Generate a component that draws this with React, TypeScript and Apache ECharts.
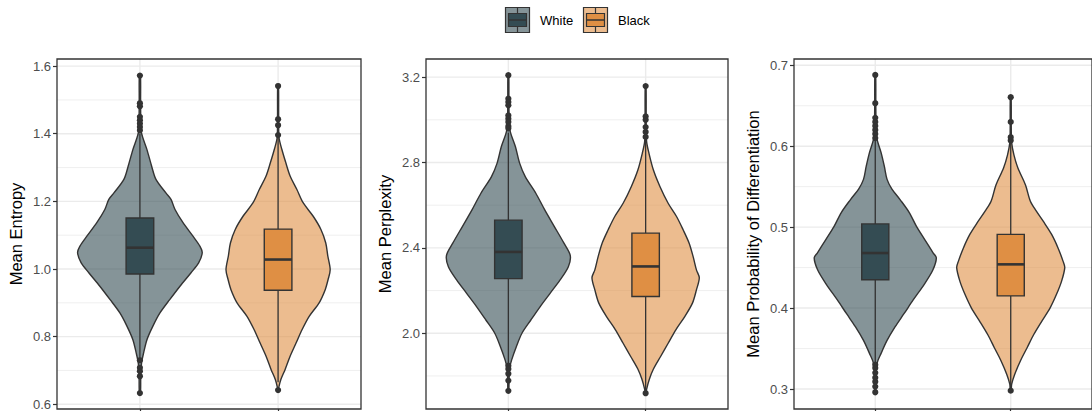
import React, { useEffect, useRef } from "react";
import * as echarts from "echarts";

// ---------- data ----------
const groups = ["White", "Black"];
const groupPositions = [1, 2];

// Panel 1: Mean Entropy
const entropyTicks = [0.6, 0.8, 1.0, 1.2, 1.4, 1.6];
const entropyMinor = [0.7, 0.9, 1.1, 1.3, 1.5];
const entropyWhiteY = [1.572, 1.5, 1.45, 1.403, 1.353, 1.304, 1.265, 1.225, 1.206, 1.176, 1.137, 1.097, 1.067, 1.048, 1.018, 0.989, 0.949, 0.91, 0.87, 0.831, 0.791, 0.752, 0.722, 0.68, 0.633];
const entropyWhiteW = [0.004, 0.005, 0.006, 0.011, 0.051, 0.085, 0.116, 0.188, 0.225, 0.254, 0.312, 0.384, 0.435, 0.451, 0.425, 0.37, 0.29, 0.217, 0.145, 0.094, 0.051, 0.027, 0.012, 0.006, 0.004];
const entropyBlackY = [1.541, 1.45, 1.388, 1.354, 1.314, 1.275, 1.235, 1.196, 1.156, 1.117, 1.077, 1.038, 0.998, 0.969, 0.939, 0.9, 0.86, 0.821, 0.781, 0.742, 0.703, 0.673, 0.648, 0.642];
const entropyBlackW = [0.003, 0.004, 0.007, 0.027, 0.056, 0.087, 0.136, 0.181, 0.254, 0.31, 0.345, 0.36, 0.377, 0.362, 0.341, 0.297, 0.225, 0.174, 0.13, 0.087, 0.051, 0.02, 0.004, 0.002];
const entropyWhiteBox = [0.736, 0.985, 1.063, 1.151, 1.4];
const entropyBlackBox = [0.665, 0.937, 1.028, 1.118, 1.39];
const entropyWhiteOut = [1.572, 1.49, 1.481, 1.45, 1.44, 1.43, 1.42, 1.41, 0.73, 0.708, 0.698, 0.683, 0.633];
const entropyBlackOut = [1.541, 1.443, 1.425, 1.396, 0.642];

// Panel 2: Mean Perplexity
const perplexityTicks = [2.0, 2.4, 2.8, 3.2];
const perplexityMinor = [1.8, 2.2, 2.6, 3.0];
const perplexityWhiteY = [3.209, 3.1, 3.0, 2.945, 2.875, 2.797, 2.734, 2.656, 2.578, 2.5, 2.422, 2.364, 2.312, 2.25, 2.187, 2.125, 2.062, 2.0, 1.937, 1.875, 1.836, 1.78, 1.73];
const perplexityWhiteW = [0.003, 0.004, 0.006, 0.014, 0.051, 0.082, 0.123, 0.2, 0.265, 0.335, 0.405, 0.451, 0.437, 0.377, 0.304, 0.232, 0.164, 0.099, 0.058, 0.024, 0.009, 0.005, 0.003];
const perplexityBlackY = [3.158, 3.0, 2.899, 2.844, 2.766, 2.688, 2.609, 2.547, 2.485, 2.422, 2.359, 2.297, 2.26, 2.203, 2.141, 2.078, 2.016, 1.953, 1.891, 1.831, 1.784, 1.737, 1.719];
const perplexityBlackW = [0.003, 0.004, 0.007, 0.024, 0.056, 0.104, 0.164, 0.225, 0.273, 0.317, 0.346, 0.37, 0.391, 0.37, 0.341, 0.285, 0.22, 0.164, 0.109, 0.056, 0.027, 0.007, 0.003];
const perplexityWhiteBox = [1.85, 2.256, 2.381, 2.53, 2.94];
const perplexityBlackBox = [1.73, 2.172, 2.313, 2.469, 2.91];
const perplexityWhiteOut = [3.209, 3.099, 3.083, 3.068, 3.02, 3.005, 2.99, 2.97, 2.96, 1.848, 1.833, 1.81, 1.778, 1.73];
const perplexityBlackOut = [3.158, 3.016, 3.0, 2.966, 2.943, 2.92, 1.719];

// Panel 3: Mean Probability of Differentiation
const probTicks = [0.3, 0.4, 0.5, 0.6, 0.7];
const probMinor = [0.35, 0.45, 0.55, 0.65];
const probWhiteY = [0.688, 0.65, 0.625, 0.61, 0.592, 0.575, 0.559, 0.547, 0.534, 0.518, 0.501, 0.485, 0.468, 0.462, 0.447, 0.43, 0.41, 0.393, 0.377, 0.36, 0.344, 0.332, 0.31, 0.296];
const probWhiteW = [0.003, 0.004, 0.006, 0.011, 0.043, 0.067, 0.087, 0.123, 0.183, 0.251, 0.304, 0.364, 0.428, 0.451, 0.425, 0.364, 0.28, 0.212, 0.147, 0.087, 0.043, 0.014, 0.005, 0.003];
const probBlackY = [0.6605, 0.62, 0.604, 0.589, 0.573, 0.552, 0.532, 0.52, 0.507, 0.491, 0.474, 0.458, 0.45, 0.433, 0.417, 0.4, 0.384, 0.367, 0.351, 0.335, 0.318, 0.306, 0.298];
const probBlackW = [0.003, 0.004, 0.007, 0.024, 0.053, 0.109, 0.145, 0.188, 0.241, 0.302, 0.35, 0.386, 0.399, 0.375, 0.338, 0.29, 0.23, 0.169, 0.121, 0.072, 0.029, 0.007, 0.003];
const probWhiteBox = [0.333, 0.435, 0.468, 0.504, 0.607];
const probBlackBox = [0.3, 0.415, 0.454, 0.491, 0.605];
const probWhiteOut = [0.688, 0.653, 0.635, 0.63, 0.625, 0.62, 0.615, 0.61, 0.33, 0.326, 0.32, 0.314, 0.309, 0.303, 0.296];
const probBlackOut = [0.6605, 0.63, 0.611, 0.607, 0.298];

// ---------- styling ----------
const FONT = "'Liberation Sans', Arial, Helvetica, sans-serif";
const WHITE_VIOLIN = "rgba(52,76,84,0.6)";
const WHITE_BOX = "#344C53";
const BLACK_VIOLIN = "rgba(223,143,68,0.6)";
const BLACK_BOX = "#DF8F44";
const INK = "#333333";

type Violin = { pos: number; y: number[]; w: number[]; box: number[]; fill: string; boxFill: string; out: number[] };
type Panel = { title: string; min: number; max: number; ticks: number[]; minor: number[]; left: number; width: number; violins: Violin[] };

const panels: Panel[] = [
  {
    title: "Mean Entropy", min: 0.586, max: 1.621, ticks: entropyTicks, minor: entropyMinor, left: 57, width: 304,
    violins: [
      { pos: groupPositions[0], y: entropyWhiteY, w: entropyWhiteW, box: entropyWhiteBox, fill: WHITE_VIOLIN, boxFill: WHITE_BOX, out: entropyWhiteOut },
      { pos: groupPositions[1], y: entropyBlackY, w: entropyBlackW, box: entropyBlackBox, fill: BLACK_VIOLIN, boxFill: BLACK_BOX, out: entropyBlackOut },
    ],
  },
  {
    title: "Mean Perplexity", min: 1.645, max: 3.285, ticks: perplexityTicks, minor: perplexityMinor, left: 426, width: 302,
    violins: [
      { pos: groupPositions[0], y: perplexityWhiteY, w: perplexityWhiteW, box: perplexityWhiteBox, fill: WHITE_VIOLIN, boxFill: WHITE_BOX, out: perplexityWhiteOut },
      { pos: groupPositions[1], y: perplexityBlackY, w: perplexityBlackW, box: perplexityBlackBox, fill: BLACK_VIOLIN, boxFill: BLACK_BOX, out: perplexityBlackOut },
    ],
  },
  {
    title: "Mean Probability of Differentiation", min: 0.2753, max: 0.7077, ticks: probTicks, minor: probMinor, left: 794, width: 304,
    violins: [
      { pos: groupPositions[0], y: probWhiteY, w: probWhiteW, box: probWhiteBox, fill: WHITE_VIOLIN, boxFill: WHITE_BOX, out: probWhiteOut },
      { pos: groupPositions[1], y: probBlackY, w: probBlackW, box: probBlackBox, fill: BLACK_VIOLIN, boxFill: BLACK_BOX, out: probBlackOut },
    ],
  },
];

const X_MIN = 0.4;
const X_MAX = 2.6;
const BOX_HALF = 0.1;

function buildOption() {
  const grid: any[] = [];
  const xAxis: any[] = [];
  const yAxis: any[] = [];
  const series: any[] = [];

  panels.forEach((p, i) => {
    grid.push({ left: p.left, top: 59, width: p.width, height: 350, show: true, borderColor: INK, borderWidth: 1.3, backgroundColor: "transparent", z: 10 });
    xAxis.push({
      type: "value", gridIndex: i, min: X_MIN, max: X_MAX,
      axisLine: { show: false }, axisLabel: { show: false }, splitLine: { show: false },
      axisTick: { show: true, customValues: groupPositions, length: 4, lineStyle: { color: INK, width: 1.2 } },
    });
    yAxis.push({
      type: "value", gridIndex: i, min: p.min, max: p.max,
      name: p.title, nameLocation: "middle", nameGap: 33,
      nameTextStyle: { fontSize: 16.5, color: "#000", fontFamily: FONT },
      axisLine: { show: false }, splitLine: { show: false },
      axisTick: { show: true, customValues: p.ticks, length: 4, lineStyle: { color: INK, width: 1.2 } },
      axisLabel: { customValues: p.ticks, formatter: (v: number) => v.toFixed(1), color: "#4D4D4D", fontSize: 13, margin: 6, fontFamily: FONT },
    });

    // grid lines
    const gridData: number[][] = [
      ...p.ticks.map((v) => [0, v]),
      ...p.minor.map((v) => [1, v]),
      ...groupPositions.map((v) => [2, v]),
    ];
    series.push({
      type: "custom", xAxisIndex: i, yAxisIndex: i, z: 1, silent: true,
      data: gridData,
      renderItem: (params: any, api: any) => {
        const kind = api.value(0);
        const v = api.value(1);
        let a, b;
        if (kind === 2) { a = api.coord([v, p.min]); b = api.coord([v, p.max]); }
        else { a = api.coord([X_MIN, v]); b = api.coord([X_MAX, v]); }
        return {
          type: "line", shape: { x1: a[0], y1: a[1], x2: b[0], y2: b[1] },
          style: { stroke: "#EBEBEB", lineWidth: kind === 1 ? 0.8 : 1.4 },
        };
      },
    });

    // violins + boxes
    series.push({
      type: "custom", xAxisIndex: i, yAxisIndex: i, z: 2, silent: true,
      data: p.violins.map((v) => [v.pos, v.box[2]]),
      renderItem: (params: any, api: any) => {
        const v = p.violins[params.dataIndex];
        const pts: number[][] = [];
        for (let k = 0; k < v.y.length; k++) pts.push(api.coord([v.pos + v.w[k], v.y[k]]));
        for (let k = v.y.length - 1; k >= 0; k--) pts.push(api.coord([v.pos - v.w[k], v.y[k]]));
        const [lw, q1, med, q3, uw] = v.box;
        const tl = api.coord([v.pos - BOX_HALF, q3]);
        const br = api.coord([v.pos + BOX_HALF, q1]);
        const up = api.coord([v.pos, uw]);
        const lo = api.coord([v.pos, lw]);
        const m1 = api.coord([v.pos - BOX_HALF, med]);
        const m2 = api.coord([v.pos + BOX_HALF, med]);
        return {
          type: "group",
          children: [
            { type: "polygon", shape: { points: pts, smooth: 0.3 }, style: { fill: v.fill, stroke: INK, lineWidth: 1.4 } },
            { type: "line", shape: { x1: up[0], y1: up[1], x2: up[0], y2: tl[1] }, style: { stroke: INK, lineWidth: 1.3 } },
            { type: "line", shape: { x1: lo[0], y1: lo[1], x2: lo[0], y2: br[1] }, style: { stroke: INK, lineWidth: 1.3 } },
            { type: "rect", shape: { x: tl[0], y: tl[1], width: br[0] - tl[0], height: br[1] - tl[1] }, style: { fill: v.boxFill, stroke: INK, lineWidth: 1.4 } },
            { type: "line", shape: { x1: m1[0], y1: m1[1], x2: m2[0], y2: m2[1] }, style: { stroke: INK, lineWidth: 2.6 } },
          ],
        };
      },
    });

    // outliers
    const outData: number[][] = [];
    p.violins.forEach((v) => v.out.forEach((o) => outData.push([v.pos, o])));
    series.push({
      type: "scatter", xAxisIndex: i, yAxisIndex: i, z: 3, silent: true,
      symbol: "circle", symbolSize: 6.2, itemStyle: { color: INK, opacity: 1 },
      data: outData,
    });
  });

  // legend drawn with graphic elements
  const legendKey = (x: number, fill: string, boxFill: string) => [
    { type: "rect", shape: { x: x, y: 7.5, width: 24, height: 25 }, style: { fill, stroke: INK, lineWidth: 1.2 } },
    { type: "line", shape: { x1: x + 12, y1: 7.5, x2: x + 12, y2: 13.5 }, style: { stroke: INK, lineWidth: 1.2 } },
    { type: "line", shape: { x1: x + 12, y1: 26.5, x2: x + 12, y2: 32.5 }, style: { stroke: INK, lineWidth: 1.2 } },
    { type: "rect", shape: { x: x + 3, y: 13.5, width: 18, height: 13 }, style: { fill: boxFill, stroke: INK, lineWidth: 1.2 } },
    { type: "line", shape: { x1: x + 3, y1: 20, x2: x + 21, y2: 20 }, style: { stroke: INK, lineWidth: 1.5 } },
  ];
  const graphic = [
    ...legendKey(505.5, WHITE_VIOLIN, WHITE_BOX),
    { type: "text", x: 540, y: 20, style: { text: groups[0], fontSize: 13, fontFamily: FONT, fill: "#000", verticalAlign: "middle", align: "left" } },
    ...legendKey(583.5, BLACK_VIOLIN, BLACK_BOX),
    { type: "text", x: 618, y: 20, style: { text: groups[1], fontSize: 13, fontFamily: FONT, fill: "#000", verticalAlign: "middle", align: "left" } },
  ];

  return { animation: false, backgroundColor: "#ffffff", grid, xAxis, yAxis, series, graphic };
}

export default function App() {
  const ref = useRef<HTMLDivElement>(null);
  useEffect(() => {
    if (!ref.current) return;
    const chart = echarts.init(ref.current, null, { renderer: "svg" });
    chart.setOption(buildOption() as any);
    return () => chart.dispose();
  }, []);
  return <div ref={ref} style={{ position: "absolute", left: 0, top: 0, width: 1092, height: 411 }} />;
}
